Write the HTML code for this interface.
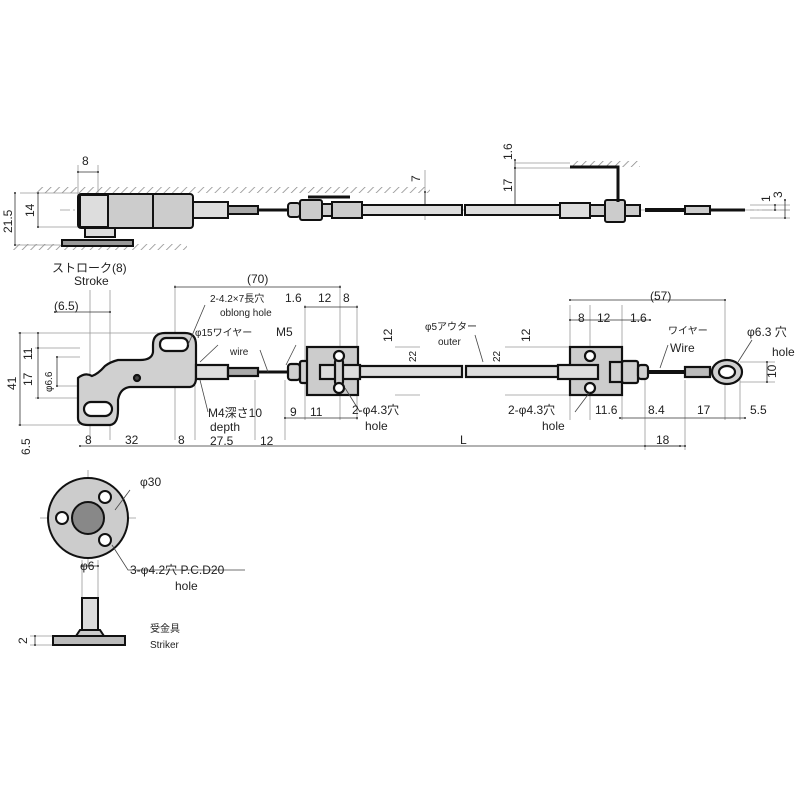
<!DOCTYPE html>
<html><head><meta charset="utf-8"><style>
html,body{margin:0;padding:0;background:#fff}
svg{display:block}
text{font-family:"Liberation Sans","Noto Sans CJK JP",sans-serif;fill:#222;font-size:12px}
.s{font-size:10px}
</style></head><body>
<svg width="800" height="800" viewBox="0 0 800 800" xmlns="http://www.w3.org/2000/svg">
<defs>
<pattern id="h" width="6" height="6" patternUnits="userSpaceOnUse" patternTransform="rotate(45)">
<line x1="0" y1="0" x2="0" y2="6" stroke="#888" stroke-width="1.5"/></pattern>
<marker id="a" markerWidth="6" markerHeight="6" refX="3" refY="3" orient="auto"><circle cx="3" cy="3" r="1.3" fill="#333"/></marker>
</defs>
<g stroke="#999" stroke-width="0.8" fill="none">
<!-- top view extension lines -->
<line x1="78" y1="165" x2="78" y2="195"/><line x1="98" y1="165" x2="98" y2="195"/>
<line x1="20" y1="193" x2="78" y2="193"/><line x1="38" y1="227" x2="78" y2="227"/>
<line x1="15" y1="245" x2="60" y2="245"/>
<line x1="425" y1="170" x2="425" y2="220"/>
<line x1="515" y1="160" x2="515" y2="215"/>
<line x1="515" y1="163" x2="570" y2="163"/><line x1="515" y1="168" x2="570" y2="168"/>
<line x1="750" y1="205" x2="790" y2="205"/><line x1="750" y1="210" x2="790" y2="210"/><line x1="750" y1="218" x2="790" y2="218"/>
<!-- centerline -->
<line x1="60" y1="210" x2="790" y2="210" stroke-dasharray="10 3 2 3"/>
<!-- middle view dims -->
<line x1="90" y1="290" x2="90" y2="440"/><line x1="110" y1="290" x2="110" y2="440"/>
<line x1="175" y1="285" x2="175" y2="440"/><line x1="195" y1="380" x2="195" y2="440"/>
<line x1="255" y1="380" x2="255" y2="440"/><line x1="285" y1="380" x2="285" y2="440"/>
<line x1="305" y1="305" x2="305" y2="420"/><line x1="340" y1="285" x2="340" y2="420"/><line x1="357" y1="305" x2="357" y2="420"/>
<line x1="18" y1="333" x2="175" y2="333"/><line x1="35" y1="348" x2="80" y2="348"/><line x1="35" y1="398" x2="80" y2="398"/>
<line x1="18" y1="425" x2="80" y2="425"/>
<line x1="57" y1="357" x2="80" y2="357"/><line x1="57" y1="386" x2="80" y2="386"/>
<line x1="395" y1="347" x2="420" y2="347"/><line x1="395" y1="395" x2="420" y2="395"/>
<line x1="570" y1="305" x2="570" y2="420"/><line x1="590" y1="305" x2="590" y2="420"/><line x1="622" y1="305" x2="622" y2="420"/>
<line x1="645" y1="380" x2="645" y2="450"/><line x1="685" y1="380" x2="685" y2="450"/>
<line x1="725" y1="300" x2="725" y2="420"/><line x1="740" y1="380" x2="740" y2="420"/>
<line x1="740" y1="362" x2="775" y2="362"/><line x1="740" y1="382" x2="775" y2="382"/>
<line x1="505" y1="347" x2="570" y2="347"/><line x1="505" y1="395" x2="570" y2="395"/>
<!-- striker -->
<line x1="82" y1="560" x2="82" y2="600"/><line x1="98" y1="560" x2="98" y2="600"/>
<line x1="30" y1="636" x2="53" y2="636"/><line x1="30" y1="645" x2="53" y2="645"/>
<line x1="88" y1="470" x2="88" y2="566"/><line x1="40" y1="518" x2="136" y2="518"/>
</g>
<!-- dimension lines with dots -->
<g stroke="#333" stroke-width="0.8" marker-start="url(#a)" marker-end="url(#a)" fill="none">
<line x1="78" y1="172" x2="98" y2="172"/>
<line x1="38" y1="193" x2="38" y2="227"/><line x1="15" y1="193" x2="15" y2="245"/>
<line x1="425" y1="192" x2="425" y2="210"/>
<line x1="515" y1="168" x2="515" y2="210"/><line x1="515" y1="160" x2="515" y2="168"/>
<line x1="775" y1="205" x2="775" y2="210"/><line x1="785" y1="200" x2="785" y2="218"/>
<line x1="175" y1="287" x2="340" y2="287"/>
<line x1="305" y1="307" x2="357" y2="307"/>
<line x1="55" y1="312" x2="110" y2="312"/>
<line x1="20" y1="333" x2="20" y2="425"/><line x1="38" y1="333" x2="38" y2="348"/><line x1="38" y1="348" x2="38" y2="398"/>
<line x1="57" y1="357" x2="57" y2="386"/>
<line x1="80" y1="446" x2="680" y2="446"/>
<line x1="285" y1="418" x2="357" y2="418"/>
<line x1="570" y1="300" x2="725" y2="300"/>
<line x1="570" y1="320" x2="650" y2="320"/>
<line x1="620" y1="418" x2="745" y2="418"/>
<line x1="645" y1="446" x2="685" y2="446"/>
<line x1="767" y1="362" x2="767" y2="382"/>
<line x1="82" y1="566" x2="98" y2="566"/>
<line x1="35" y1="636" x2="35" y2="645"/>
</g>
<!-- top view walls -->
<rect x="35" y="187" width="395" height="6" fill="url(#h)"/>
<rect x="570" y="161" width="70" height="6" fill="url(#h)"/>
<rect x="12" y="244" width="175" height="6" fill="url(#h)"/>
<!-- top view parts -->
<g stroke="#111" stroke-width="2" fill="#ccc">
<rect x="78" y="194" width="115" height="34" rx="3"/>
<rect x="80" y="195" width="28" height="32" fill="#ddd"/>
<line x1="153" y1="195" x2="153" y2="227"/>
<path d="M62 240 h71 v6 h-71 z" fill="#999"/>
<path d="M85 237 h30 v-9 h-30 z" fill="#ddd"/>
<rect x="193" y="202" width="35" height="16" fill="#ddd"/>
<rect x="228" y="206" width="30" height="8" fill="#aaa"/>
<line x1="258" y1="210" x2="288" y2="210" stroke-width="3"/>
<rect x="288" y="203" width="12" height="14" rx="3"/>
<rect x="300" y="200" width="22" height="20" rx="2"/>
<rect x="322" y="204" width="10" height="12"/>
<rect x="332" y="202" width="30" height="16"/>
<path d="M308 197 h42" fill="none" stroke-width="3"/>
<rect x="362" y="205" width="100" height="10" fill="#ddd"/>
<rect x="465" y="205" width="95" height="10" fill="#ddd"/>
<rect x="560" y="203" width="30" height="15" fill="#ddd"/>
<rect x="590" y="205" width="15" height="11"/>
<rect x="605" y="200" width="20" height="22" rx="2"/>
<rect x="625" y="205" width="15" height="11"/>
<line x1="645" y1="210" x2="690" y2="210" stroke-width="4"/>
<path d="M685 206 h25 v8 h-25z" fill="#ccc"/>
<line x1="710" y1="210" x2="745" y2="210" stroke-width="3"/>
<path d="M570 167 h48 v35" fill="none" stroke-width="3"/>
</g>
<!-- middle view bracket -->
<g stroke="#111" stroke-width="2.2" fill="#d0d0d0">
<path d="M78 378 L78 418 Q78 425 88 425 L110 425 Q118 424 118 410 L118 400 Q120 388 130 387 L190 387 Q196 386 196 378 L196 345 Q196 333 185 333 L165 333 Q153 333 153 345 L153 352 Q152 360 140 360 L118 360 Q110 362 105 366 Q98 374 92 376 Q85 372 78 378 Z"/>
<rect x="160" y="338" width="28" height="13" rx="6" fill="#fff"/>
<rect x="84" y="402" width="28" height="14" rx="7" fill="#fff"/>
<circle cx="137" cy="378" r="3" fill="#444"/>
<rect x="196" y="365" width="32" height="14" fill="#ddd"/>
<rect x="228" y="368" width="30" height="8" fill="#aaa"/>
<line x1="258" y1="372" x2="288" y2="372" stroke-width="3"/>
<rect x="288" y="364" width="12" height="16" rx="3"/>
<rect x="300" y="361" width="20" height="22" rx="2"/>
<rect x="307" y="347" width="51" height="48" fill="#ccc"/>
<rect x="320" y="365" width="40" height="14" fill="#ddd"/>
<rect x="335" y="358" width="8" height="28" rx="4"/>
<circle cx="339" cy="356" r="5" fill="#fff"/><circle cx="339" cy="388" r="5" fill="#fff"/>
<rect x="360" y="366" width="102" height="11" fill="#ddd"/>
<rect x="466" y="366" width="104" height="11" fill="#ddd"/>
<rect x="570" y="347" width="52" height="48" fill="#ccc"/>
<rect x="558" y="365" width="40" height="14" fill="#ddd"/>
<circle cx="590" cy="356" r="5" fill="#fff"/><circle cx="590" cy="388" r="5" fill="#fff"/>
<rect x="610" y="362" width="12" height="20"/>
<rect x="622" y="361" width="16" height="22" rx="2"/>
<rect x="638" y="365" width="10" height="14" rx="3"/>
<line x1="648" y1="372" x2="685" y2="372" stroke-width="4"/>
<rect x="685" y="367" width="25" height="10" fill="#bbb"/>
<ellipse cx="727" cy="372" rx="15" ry="12"/>
<ellipse cx="727" cy="372" rx="8" ry="6" fill="#fff"/>
</g>
<!-- striker views -->
<g stroke="#111" stroke-width="2" fill="#ccc">
<circle cx="88" cy="518" r="40"/>
<circle cx="88" cy="518" r="16" fill="#888"/>
<circle cx="105" cy="497" r="6" fill="#fff"/><circle cx="62" cy="518" r="6" fill="#fff"/><circle cx="105" cy="540" r="6" fill="#fff"/>
<rect x="82" y="598" width="16" height="32" fill="#ddd"/>
<path d="M76 636 L80 630 H100 L104 636" />
<rect x="53" y="636" width="72" height="9" fill="#bbb"/>
</g>
<g stroke="#444" stroke-width="0.8" fill="none">
<path d="M188 345 L205 305"/><path d="M200 362 L218 345"/><path d="M268 372 L260 350"/>
<path d="M286 365 L296 345"/><path d="M200 380 L208 412"/><path d="M345 388 L360 412"/>
<path d="M483 362 L475 335"/><path d="M590 392 L575 412"/><path d="M660 368 L668 345"/>
<path d="M738 362 L752 340"/><path d="M115 510 L130 490"/><path d="M112 545 L128 570 H245"/>
</g>
<!-- labels -->
<text x="82" y="165">8</text>
<text transform="translate(12,233) rotate(-90)">21.5</text>
<text transform="translate(34,217) rotate(-90)">14</text>
<text transform="translate(420,182) rotate(-90)">7</text>
<text transform="translate(512,192) rotate(-90)">17</text>
<text transform="translate(512,160) rotate(-90)">1.6</text>
<text transform="translate(770,202) rotate(-90)">1</text>
<text transform="translate(782,198) rotate(-90)">3</text>
<text x="52" y="272">ストローク(8)</text>
<text x="74" y="285">Stroke</text>
<text x="247" y="283">(70)</text>
<text x="54" y="310">(6.5)</text>
<text x="210" y="302" class="s">2-4.2×7長穴</text>
<text x="220" y="316" class="s">oblong hole</text>
<text x="195" y="336" class="s">φ15ワイヤー</text>
<text x="230" y="355" class="s">wire</text>
<text x="276" y="336">M5</text>
<text x="285" y="302">1.6</text>
<text x="318" y="302">12</text>
<text x="343" y="302">8</text>
<text transform="translate(392,342) rotate(-90)">12</text>
<text transform="translate(416,362) rotate(-90)" class="s">22</text>
<text x="425" y="330" class="s">φ5アウター</text>
<text x="438" y="345" class="s">outer</text>
<text transform="translate(530,342) rotate(-90)">12</text>
<text transform="translate(500,362) rotate(-90)" class="s">22</text>
<text x="578" y="322">8</text>
<text x="597" y="322">12</text>
<text x="630" y="322">1.6</text>
<text x="650" y="300">(57)</text>
<text x="668" y="334" class="s">ワイヤー</text>
<text x="670" y="352">Wire</text>
<text x="747" y="336">φ6.3 穴</text>
<text x="772" y="356">hole</text>
<text transform="translate(776,378) rotate(-90)">10</text>
<text transform="translate(16,390) rotate(-90)">41</text>
<text transform="translate(32,360) rotate(-90)">11</text>
<text transform="translate(32,386) rotate(-90)">17</text>
<text transform="translate(52,392) rotate(-90)" class="s">φ6.6</text>
<text transform="translate(30,455) rotate(-90)">6.5</text>
<text x="208" y="417">M4深さ10</text>
<text x="210" y="431">depth</text>
<text x="210" y="445">27.5</text>
<text x="260" y="445">12</text>
<text x="290" y="416">9</text>
<text x="310" y="416">11</text>
<text x="352" y="414">2-φ4.3穴</text>
<text x="365" y="430">hole</text>
<text x="85" y="444">8</text>
<text x="125" y="444">32</text>
<text x="178" y="444">8</text>
<text x="460" y="444">L</text>
<text x="508" y="414">2-φ4.3穴</text>
<text x="542" y="430">hole</text>
<text x="595" y="414">11.6</text>
<text x="648" y="414">8.4</text>
<text x="697" y="414">17</text>
<text x="750" y="414">5.5</text>
<text x="656" y="444">18</text>
<text x="140" y="486">φ30</text>
<text x="130" y="574">3-φ4.2穴 P.C.D20</text>
<text x="175" y="590">hole</text>
<text x="80" y="570">φ6</text>
<text transform="translate(27,644) rotate(-90)">2</text>
<text x="150" y="632" class="s">受金具</text>
<text x="150" y="648" class="s">Striker</text>
</svg>
</body></html>
